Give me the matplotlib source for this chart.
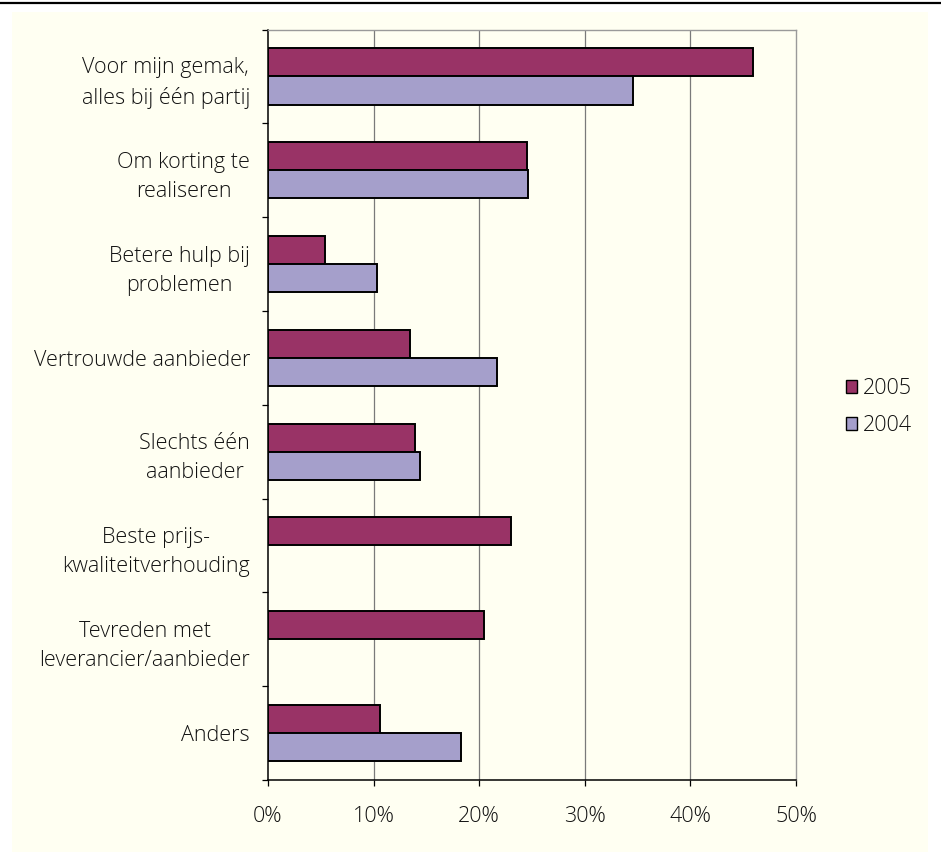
import numpy as np
import matplotlib.pyplot as plt
from matplotlib.patches import Rectangle, Patch
from matplotlib.lines import Line2D

# --- Data ---
categories = [
    "Voor mijn gemak,\nalles bij één partij",
    "Om korting te\nrealiseren",
    "Betere hulp bij\nproblemen",
    "Vertrouwde aanbieder",
    "Slechts één\naanbieder",
    "Beste prijs-\nkwaliteitverhouding",
    "Tevreden met\nleverancier/aanbieder",
    "Anders",
]
values_2005 = [45.9, 24.5, 5.4, 13.4, 13.9, 23.0, 20.5, 10.6]
values_2004 = [34.6, 24.6, 10.3, 21.7, 14.4, np.nan, np.nan, 18.3]
series_labels = ["2005", "2004"]
x_ticks = [0, 10, 20, 30, 40, 50]

color_2005 = "#993366"
color_2004 = "#A59FCB"
panel_color = "#FFFFF2"
text_color = "#111111"

plt.rcParams["font.family"] = ["Open Sans", "DejaVu Sans"]
plt.rcParams["font.weight"] = "light"
FS = 15.5

W, H = 941, 855
fig = plt.figure(figsize=(W / 100, H / 100), dpi=100)
fig.patch.set_facecolor("white")

# cream panel behind the chart and the rule along the top
fig.add_artist(Rectangle((12 / W, 3 / H), (928 - 12) / W, (852 - 12) / H,
                         transform=fig.transFigure, facecolor=panel_color,
                         edgecolor="none", zorder=0))
fig.add_artist(Line2D([0, 1], [1 - 3.5 / H, 1 - 3.5 / H], transform=fig.transFigure,
                      color="black", lw=1.6, zorder=1))

ax = fig.add_axes([268 / W, 1 - 780 / H, 528 / W, (780 - 29.5) / H])
ax.set_facecolor(panel_color)
ax.set_zorder(2)

y = np.arange(len(categories))
bar_h = 0.3
ax.barh(y - bar_h / 2, values_2005, height=bar_h, color=color_2005,
        edgecolor="black", linewidth=1.4, zorder=3)
ax.barh(y + bar_h / 2, values_2004, height=bar_h, color=color_2004,
        edgecolor="black", linewidth=1.4, zorder=3)

ax.set_xlim(0, 50)
ax.set_ylim(len(categories) - 0.5, -0.5)

# gridlines
for v in x_ticks[1:-1]:
    ax.axvline(v, color="#7a7a7a", lw=0.9, zorder=1)

ax.set_xticks(x_ticks)
ax.set_xticklabels([f"{v}%" for v in x_ticks])
ax.set_yticks(y)
ax.set_yticklabels(categories)
ax.set_yticks(np.arange(len(categories) + 1) - 0.5, minor=True)

ax.tick_params(axis="y", which="major", length=0, pad=13, labelsize=FS,
               labelcolor=text_color)
ax.tick_params(axis="y", which="minor", length=4.5, width=0.9, color="black")
ax.tick_params(axis="x", which="major", length=4.5, width=0.9, color="black",
               pad=14, labelsize=FS, labelcolor=text_color)
for t in ax.get_yticklabels():
    t.set_multialignment("center")
    t.set_linespacing(1.5)

for side in ["top", "right"]:
    ax.spines[side].set_color("#9a9a9a")
    ax.spines[side].set_linewidth(1.0)
for side in ["left", "bottom"]:
    ax.spines[side].set_color("black")
    ax.spines[side].set_linewidth(1.1)

handles = [Patch(facecolor=color_2005, edgecolor="black", lw=1.0),
           Patch(facecolor=color_2004, edgecolor="black", lw=1.0)]
fig.legend(handles, series_labels, loc="center left",
           bbox_to_anchor=(846 / W, 1 - 407 / H), frameon=False,
           handlelength=0.52, handleheight=0.52, handletextpad=0.25,
           labelspacing=0.75, borderpad=0, borderaxespad=0, fontsize=FS,
           labelcolor=text_color)

fig.savefig("out.png", dpi=100, facecolor="white")
